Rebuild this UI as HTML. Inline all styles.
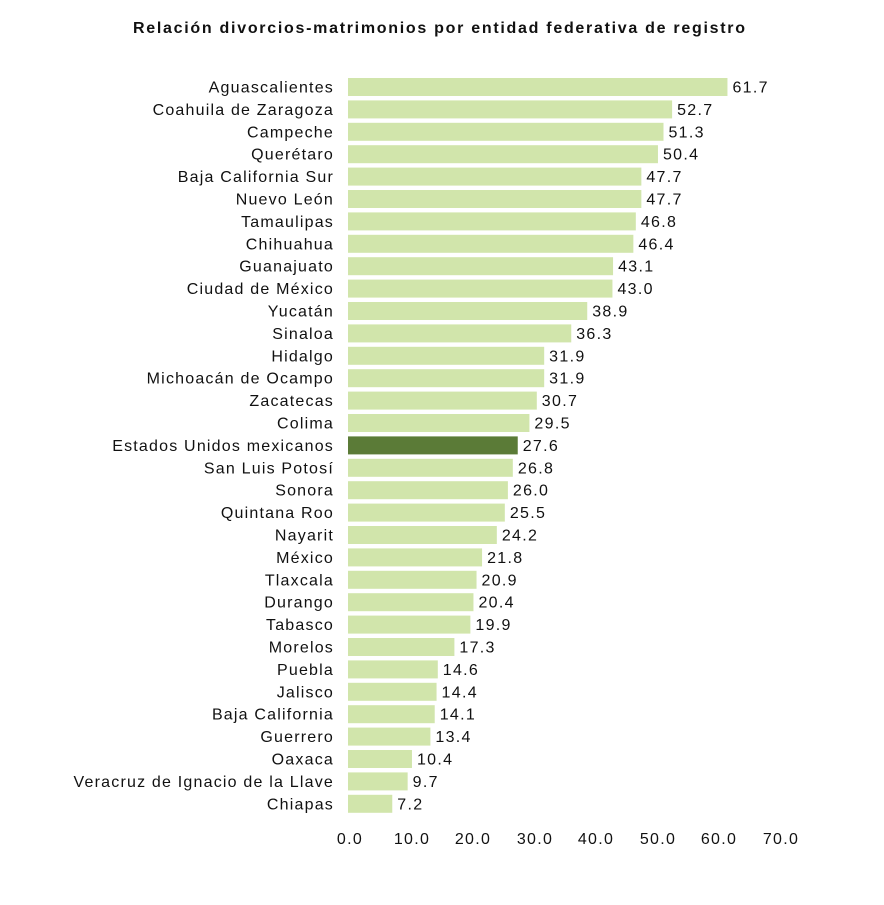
<!DOCTYPE html>
<html><head><meta charset="utf-8"><style>
body{margin:0;background:#fff;}
svg text{font-family:"Liberation Sans",Arial,sans-serif;fill:#111;}
</style></head><body>
<svg width="884" height="900" xmlns="http://www.w3.org/2000/svg">
<text x="439" y="33" text-anchor="middle" font-size="16" font-weight="bold" textLength="612" lengthAdjust="spacing">Relación divorcios-matrimonios por entidad federativa de registro</text>
<g id="bars"></g>
<g font-size="16" text-anchor="middle" letter-spacing="1.3">
<text x="350" y="844">0.0</text><text x="412" y="844">10.0</text><text x="473" y="844">20.0</text><text x="535" y="844">30.0</text><text x="596" y="844">40.0</text><text x="658" y="844">50.0</text><text x="719" y="844">60.0</text><text x="781" y="844">70.0</text>
</g>
</svg>
<script>
var d=[["Aguascalientes",61.7],["Coahuila de Zaragoza",52.7],["Campeche",51.3],["Querétaro",50.4],["Baja California Sur",47.7],["Nuevo León",47.7],["Tamaulipas",46.8],["Chihuahua",46.4],["Guanajuato",43.1],["Ciudad de México",43.0],["Yucatán",38.9],["Sinaloa",36.3],["Hidalgo",31.9],["Michoacán de Ocampo",31.9],["Zacatecas",30.7],["Colima",29.5],["Estados Unidos mexicanos",27.6],["San Luis Potosí",26.8],["Sonora",26.0],["Quintana Roo",25.5],["Nayarit",24.2],["México",21.8],["Tlaxcala",20.9],["Durango",20.4],["Tabasco",19.9],["Morelos",17.3],["Puebla",14.6],["Jalisco",14.4],["Baja California",14.1],["Guerrero",13.4],["Oaxaca",10.4],["Veracruz de Ignacio de la Llave",9.7],["Chiapas",7.2]];
var g=document.getElementById('bars'),s='';
d.forEach(function(r,i){var c=87+i*22.4,w=r[1]*6.15;
s+='<rect x="348" y="'+(c-9)+'" width="'+w+'" height="18" fill="'+(i==16?'#5b7b37':'#d1e5ab')+'"/>';
s+='<text x="334" y="'+(c+5.5)+'" font-size="16" letter-spacing="1.2" text-anchor="end">'+r[0]+'</text>';
s+='<text x="'+(348+w+5)+'" y="'+(c+5.5)+'" font-size="16" letter-spacing="1.3">'+r[1].toFixed(1)+'</text>';});
g.innerHTML=s;
</script>
</body></html>
